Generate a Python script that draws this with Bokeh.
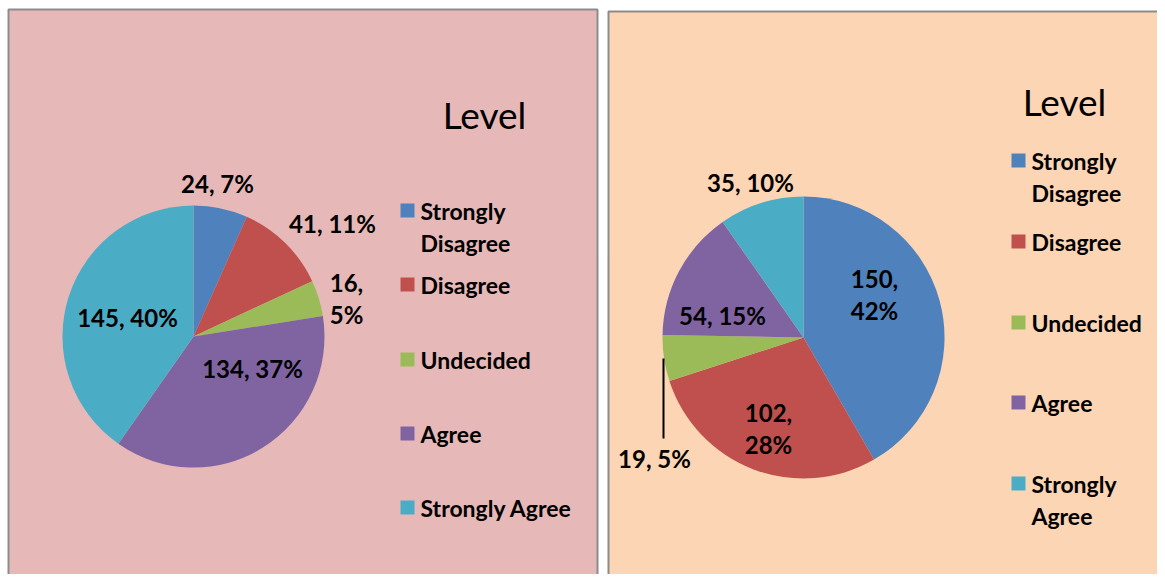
import numpy as np
from bokeh.plotting import figure
from bokeh.models import Range1d, ColumnDataSource
from bokeh.core.properties import value
from bokeh.embed import file_html
from bokeh.resources import INLINE

# ---------------- data ----------------
categories = ["Strongly Disagree", "Disagree", "Undecided", "Agree", "Strongly Agree"]
colors = ["#4F81BD", "#C0504D", "#9BBB59", "#8064A2", "#4BACC6"]

left_values = [24, 41, 16, 134, 145]
left_labels = ["24, 7%", "41, 11%", "16,\n5%", "134, 37%", "145, 40%"]

right_values = [150, 102, 19, 54, 35]
right_labels = ["150,\n42%", "102,\n28%", "19, 5%", "54, 15%", "35, 10%"]

legend_lines_left = [["Strongly", "Disagree"], ["Disagree"], ["Undecided"], ["Agree"], ["Strongly Agree"]]
legend_lines_right = [["Strongly", "Disagree"], ["Disagree"], ["Undecided"], ["Agree"], ["Strongly", "Agree"]]

W, H = 1157, 574
FONT = value("Lato")

def X(x):
    return x

def Y(y):
    return H - y

p = figure(width=W, height=H, output_backend="svg", toolbar_location=None,
           x_range=Range1d(0, W), y_range=Range1d(0, H), min_border=0,
           background_fill_color="white", border_fill_color="white")
p.axis.visible = False
p.grid.visible = False
p.outline_line_color = None

# panels
p.quad(left=[X(8), X(608)], right=[X(597), X(1175)], bottom=[Y(592), Y(592)],
       top=[Y(9), Y(11)], fill_color=["#E6B9B8", "#FCD5B5"],
       line_color="#8C8C8C", line_width=2)


def pie(values, cx, cy, r):
    vals = np.array(values, dtype=float)
    cum = np.concatenate([[0], np.cumsum(vals)]) / vals.sum()
    start = np.pi / 2 - 2 * np.pi * cum[:-1]
    end = np.pi / 2 - 2 * np.pi * cum[1:]
    src = ColumnDataSource(dict(x=[X(cx)] * len(vals), y=[Y(cy)] * len(vals),
                                start=start, end=end, color=colors))
    p.wedge(x="x", y="y", radius=r, start_angle="start", end_angle="end",
            direction="clock", fill_color="color", line_color=None, source=src)


def labels(texts, positions, spacing=31):
    xs, ys, ts = [], [], []
    for t, (px, py) in zip(texts, positions):
        lines = t.split("\n")
        n = len(lines)
        for i, ln in enumerate(lines):
            xs.append(X(px))
            ys.append(Y(py + (i - (n - 1) / 2) * spacing))
            ts.append(ln)
    p.text(x=xs, y=ys, text=ts, text_font=FONT, text_font_style="bold",
           text_font_size="24px", text_align="center", text_baseline="middle",
           text_color="black")


def legend(lines_list, sq_x, centers, spacing=32):
    sx, sy, tx, ty, tt = [], [], [], [], []
    for lines, cy in zip(lines_list, centers):
        sx.append(X(sq_x + 7))
        sy.append(Y(cy))
        for i, ln in enumerate(lines):
            tx.append(X(sq_x + 20))
            ty.append(Y(cy + i * spacing))
            tt.append(ln)
    p.rect(x=sx, y=sy, width=14, height=14, fill_color=colors, line_color=None)
    p.text(x=tx, y=ty, text=tt, text_font=FONT, text_font_style="bold",
           text_font_size="23px", text_align="left", text_baseline="middle",
           text_color="black")


# left chart
pie(left_values, 193, 336, 131)
labels(left_labels, [(217, 183), (332, 223), (346, 298), (252, 368), (127, 317)])
legend(legend_lines_left, 400, [210, 284, 359, 433, 507])
p.text(x=[X(484)], y=[Y(114)], text=["Level"], text_font=FONT,
       text_font_size="37px", text_align="center", text_baseline="middle",
       text_color="black")

# right chart
pie(right_values, 803, 337, 141)
labels(right_labels, [(874, 294), (768, 428), (654, 458), (722, 315), (750, 182)])
legend(legend_lines_right, 1011, [160, 241, 322, 402, 483])
p.text(x=[X(1064)], y=[Y(101)], text=["Level"], text_font=FONT,
       text_font_size="37px", text_align="center", text_baseline="middle",
       text_color="black")

# leader line for the small right slice label
p.line(x=[X(663), X(663)], y=[Y(358), Y(438)], line_color="black", line_width=2)

open("out.html", "w").write(file_html(p, INLINE))
